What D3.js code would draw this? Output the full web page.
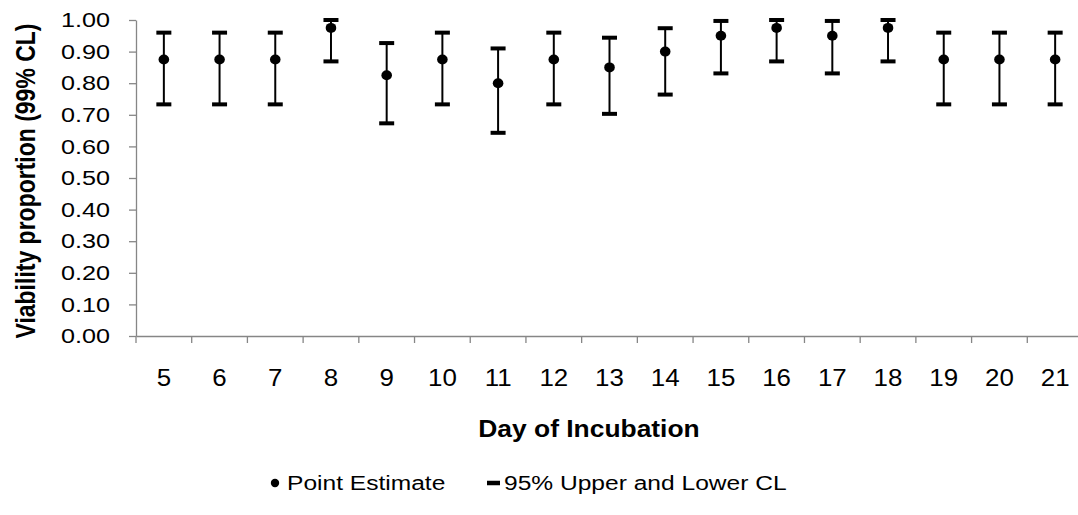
<!DOCTYPE html>
<html>
<head>
<meta charset="utf-8">
<script src="https://cdn.jsdelivr.net/npm/d3@7"></script>
<style>
  html, body { margin: 0; padding: 0; background: #fff; }
  svg { display: block; font-family: "Liberation Sans", Arial, sans-serif; }
</style>
</head>
<body>
<svg id="chart" width="1078" height="515"></svg>
<script>
// Day of incubation (categories)
const days = ["5","6","7","8","9","10","11","12","13","14","15","16","17","18","19","20","21"];
// Point estimate of viability proportion per day
const estimate = [0.875,0.875,0.875,0.975,0.825,0.875,0.800,0.875,0.850,0.900,0.950,0.975,0.950,0.975,0.875,0.875,0.875];
// Upper confidence limit
const upperCL = [0.960,0.960,0.960,1.000,0.927,0.960,0.910,0.960,0.944,0.974,0.997,1.000,0.997,1.000,0.960,0.960,0.960];
// Lower confidence limit
const lowerCL = [0.733,0.733,0.733,0.869,0.673,0.733,0.643,0.733,0.703,0.764,0.831,0.869,0.831,0.869,0.733,0.733,0.733];
// Y axis tick values
const yTicks = [0,0.1,0.2,0.3,0.4,0.5,0.6,0.7,0.8,0.9,1.0];

const svg = d3.select("#chart");
const plotLeft = 136, plotRight = 1083, plotTop = 20, plotBottom = 336;
const axisColor = "#868686";
const wide = 1.2; // horizontal widening applied to the lettering

const x = d3.scaleBand().domain(days).range([plotLeft, plotRight]).paddingInner(0).paddingOuter(0);
const y = d3.scaleLinear().domain([0, 1]).range([plotBottom, plotTop]);

// Y axis
const yPad = 26;
const yAxis = svg.append("g")
  .attr("transform", `translate(${plotLeft},0)`)
  .call(d3.axisLeft(y).tickValues(yTicks).tickFormat(d3.format(".2f")).tickSizeInner(7).tickSizeOuter(0).tickPadding(yPad - 7));
yAxis.select(".domain").attr("stroke", axisColor).attr("stroke-width", 1.3);
yAxis.selectAll(".tick line").attr("stroke", axisColor).attr("stroke-width", 1.3);
yAxis.selectAll(".tick text")
  .attr("fill", "#000").style("font-size", "21px")
  .attr("x", -yPad / wide)
  .attr("transform", `scale(${wide},1)`);

// X axis: ticks sit on category boundaries
const xAxis = svg.append("g")
  .attr("transform", `translate(0,${plotBottom})`)
  .call(d3.axisBottom(x).tickSize(0).tickPadding(33));
xAxis.select(".domain").attr("stroke", axisColor).attr("stroke-width", 1.3);
xAxis.selectAll(".tick text")
  .attr("fill", "#000").style("font-size", "24px")
  .attr("transform", "scale(1.08,1)");
svg.append("g").selectAll("line")
  .data(days)
  .join("line")
  .attr("x1", d => x(d)).attr("x2", d => x(d))
  .attr("y1", plotBottom).attr("y2", plotBottom + 7)
  .attr("stroke", axisColor).attr("stroke-width", 1.3);

// Error bars
const cx = d => x(d) + x.bandwidth() / 2;
const bars = svg.append("g").selectAll("g")
  .data(days.map((d, i) => ({ day: d, est: estimate[i], hi: upperCL[i], lo: lowerCL[i] })))
  .join("g");
bars.append("line")
  .attr("x1", d => cx(d.day)).attr("x2", d => cx(d.day))
  .attr("y1", d => y(d.hi)).attr("y2", d => y(d.lo))
  .attr("stroke", "#000").attr("stroke-width", 2);
bars.append("line")
  .attr("x1", d => cx(d.day) - 7.5).attr("x2", d => cx(d.day) + 7.5)
  .attr("y1", d => y(d.hi)).attr("y2", d => y(d.hi))
  .attr("stroke", "#000").attr("stroke-width", 4);
bars.append("line")
  .attr("x1", d => cx(d.day) - 7.5).attr("x2", d => cx(d.day) + 7.5)
  .attr("y1", d => y(d.lo)).attr("y2", d => y(d.lo))
  .attr("stroke", "#000").attr("stroke-width", 4);
bars.append("ellipse")
  .attr("cx", d => cx(d.day)).attr("cy", d => y(d.est))
  .attr("rx", 5.3).attr("ry", 5).attr("fill", "#000");

// Axis titles
svg.append("text")
  .attr("transform", `translate(589,437) scale(1.1,1)`)
  .attr("text-anchor", "middle")
  .style("font-size", "24px").style("font-weight", "bold")
  .text("Day of Incubation");
svg.append("text")
  .attr("transform", `translate(35,${(plotTop + plotBottom) / 2 + 3}) scale(${wide},1) rotate(-90)`)
  .attr("text-anchor", "middle")
  .style("font-size", "23px").style("font-weight", "bold")
  .text("Viability proportion (99% CL)");

// Legend
const legY = 490;
svg.append("circle").attr("cx", 275).attr("cy", legY - 7).attr("r", 4.2).attr("fill", "#000");
svg.append("text").attr("transform", `translate(287,${legY}) scale(1.17,1)`)
  .style("font-size", "21px").text("Point Estimate");
svg.append("line").attr("x1", 487).attr("x2", 500).attr("y1", legY - 7).attr("y2", legY - 7)
  .attr("stroke", "#000").attr("stroke-width", 4.5);
svg.append("text").attr("transform", `translate(504,${legY}) scale(1.17,1)`)
  .style("font-size", "21px").text("95% Upper and Lower CL");
</script>
</body>
</html>
